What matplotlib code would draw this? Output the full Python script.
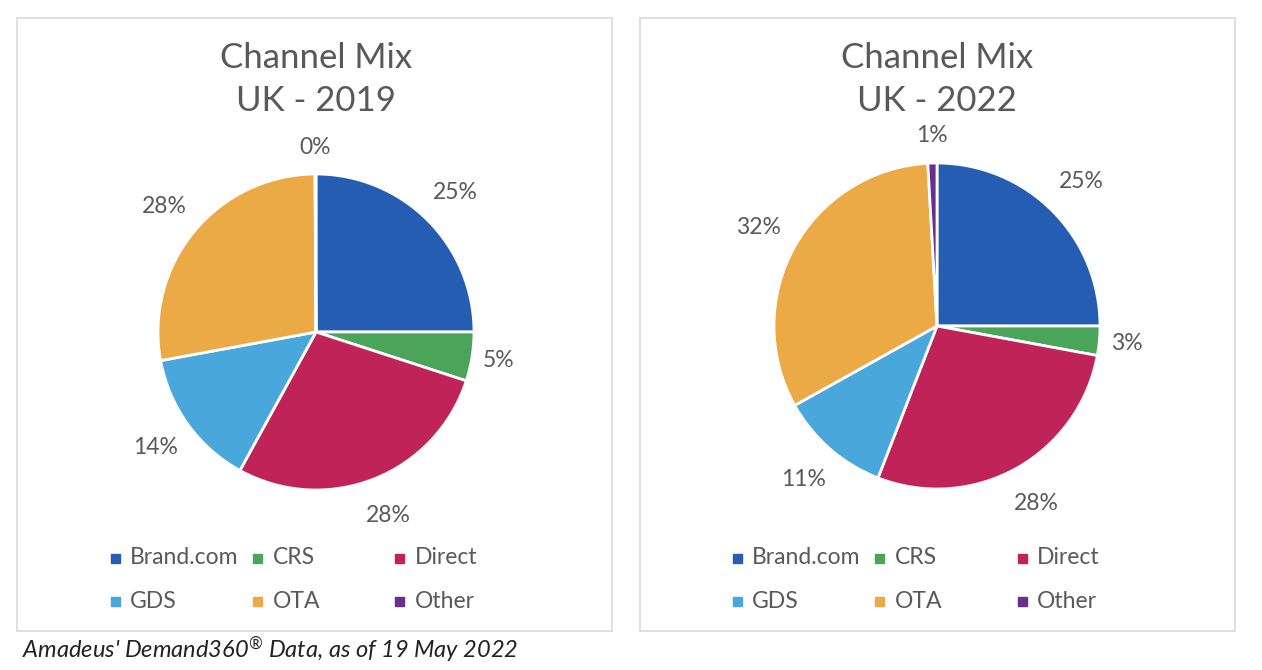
import matplotlib.pyplot as plt
from matplotlib.patches import Rectangle

plt.rcParams['font.family'] = ['Lato', 'DejaVu Sans']
plt.rcParams['mathtext.fontset'] = 'custom'
plt.rcParams['mathtext.rm'] = 'Lato'
plt.rcParams['mathtext.it'] = 'Lato:italic'

channels = ['Brand.com', 'CRS', 'Direct', 'GDS', 'OTA', 'Other']
colors = ['#255DB2', '#4AA55B', '#C02358', '#4AA7DB', '#EBAA45', '#6A2E8E']
share_2019 = [25.0, 5.0, 28.0, 14.1, 27.8, 0.1]
share_2022 = [25.0, 2.9, 28.0, 11.0, 32.2, 0.9]
titles = ['Channel Mix\nUK - 2019', 'Channel Mix\nUK - 2022']
caption = r"Amadeus' Demand360$^{\circledR}$ Data, as of 19 May 2022"

W, H = 1262, 670
grey = '#595959'

fig = plt.figure(figsize=(W / 100, H / 100), dpi=100)


def px(x, y):
    # pixel (from top-left) -> figure fraction
    return x / W, 1 - y / H


def panel(box_x, cx, cy, r, title, values, legend_x):
    # frame around each chart
    x0, y0 = px(box_x, 631)
    fig.add_artist(Rectangle((x0, y0), 595 / W, 613 / H, transform=fig.transFigure,
                             fill=False, edgecolor='#D9D9D9', linewidth=1.2))
    k = 1.4
    side = 2 * k * r
    ax = fig.add_axes([(cx - side / 2) / W, (H - cy - side / 2) / H, side / W, side / H])
    wedges, _, pcts = ax.pie(values, colors=colors, startangle=90, counterclock=False,
                             autopct='%1.0f%%', pctdistance=1.25,
                             wedgeprops=dict(edgecolor='white', linewidth=2),
                             textprops=dict(color=grey, fontsize=16.5))
    # thin slices get their label pulled a bit closer, as excel does
    for v, t in zip(values, pcts):
        if v < 6:
            x, y = t.get_position()
            t.set_position((x * 1.17 / 1.25, y * 1.17 / 1.25))
    ax.set_xlim(-k, k)
    ax.set_ylim(-k, k)
    ax.set_aspect('equal')
    ax.axis('off')

    t1, t2 = title.split('\n')
    fig.text(*px(cx, 58), t1, ha='center', va='center', fontsize=25, color=grey)
    fig.text(*px(cx, 101), t2, ha='center', va='center', fontsize=25, color=grey)

    # legend laid out like Excel: 3 equal columns, 2 rows
    for i, name in enumerate(channels):
        col, row = i % 3, i // 3
        mx = legend_x + col * 142.5
        my = 558 + row * 43
        fig.add_artist(Rectangle(px(mx - 4.5, my + 4.5), 9 / W, 9 / H,
                                 transform=fig.transFigure, color=colors[i]))
        fig.text(*px(mx + 15, my), name, ha='left', va='center',
                 fontsize=16.5, color=grey)


panel(17, 316, 332, 158, titles[0], share_2019, 115)
panel(640, 937, 326, 163, titles[1], share_2022, 737)

fig.text(*px(22, 650), caption, ha='left', va='center', fontsize=17,
         style='italic', color='#222222')

fig.savefig('out.png', dpi=100, facecolor='white')
